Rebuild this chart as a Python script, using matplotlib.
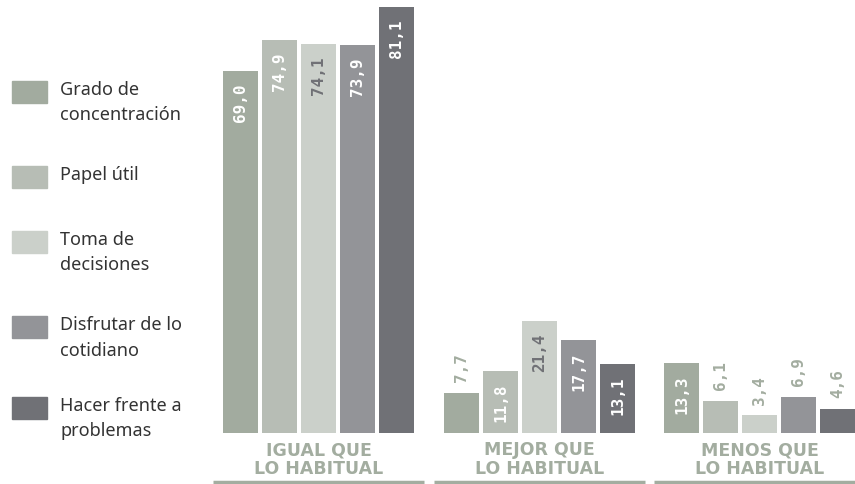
import matplotlib.pyplot as plt

# Survey results (%) per aspect, for each comparison group
groups = ['IGUAL QUE\nLO HABITUAL', 'MEJOR QUE\nLO HABITUAL', 'MENOS QUE\nLO HABITUAL']
aspects = ['Grado de\nconcentración', 'Papel útil', 'Toma de\ndecisiones',
           'Disfrutar de lo\ncotidiano', 'Hacer frente a\nproblemas']
igual = [69.0, 74.9, 74.1, 73.9, 81.1]
mejor = [7.7, 11.8, 21.4, 17.7, 13.1]
menos = [13.3, 6.1, 3.4, 6.9, 4.6]

colors = ['#a2ab9f', '#b7bdb5', '#cbd0ca', '#939498', '#707176']
inside_colors = ['white', 'white', '#707176', 'white', 'white']
label_green = '#a3ada0'

W, H = 855, 484
PX_PER_UNIT = 5.25      # vertical pixels per percentage point
BASE_Y = 433            # pixel row of the bars' baseline
GROUP_X = [223, 444, 664]
BAR_W = 35
STEP = 39.1

fig = plt.figure(figsize=(W / 100, H / 100), dpi=100)
ax = fig.add_axes([0, 0, 1, 1])
ax.set_xlim(0, W)
ax.set_ylim(-(H - BASE_Y) / PX_PER_UNIT, BASE_Y / PX_PER_UNIT)
ax.axis('off')


def px_to_val(py):
    return (BASE_Y - py) / PX_PER_UNIT


for g, values in enumerate([igual, mejor, menos]):
    x0 = GROUP_X[g]
    xs = [x0 + i * STEP for i in range(len(values))]
    ax.bar(xs, values, width=BAR_W, align='edge', color=colors)

    for i, v in enumerate(values):
        xc = xs[i] + BAR_W / 2
        txt = f'{v:.1f}'.replace('.', ',')
        if v > 10:
            ax.text(xc, v - 2.4, txt, rotation=90, ha='center', va='top',
                    color=inside_colors[i], fontsize=11.5, fontweight='bold',
                    family='DejaVu Sans Mono')
        else:
            ax.text(xc, v + 2.0, txt, rotation=90, ha='center', va='bottom',
                    color=label_green, fontsize=11.5, fontweight='bold',
                    family='DejaVu Sans Mono')

    # group name and underline
    gc = x0 + (4 * STEP + BAR_W) / 2
    first, second = groups[g].split('\n')
    ax.text(gc, px_to_val(450), first, ha='center', va='center',
            color=label_green, fontsize=12.5, fontweight='bold')
    ax.text(gc, px_to_val(469), second, ha='center', va='center',
            color=label_green, fontsize=12.5, fontweight='bold')
    ax.plot([x0 - 10, min(x0 + 4 * STEP + BAR_W + 10, W)],
            [px_to_val(482)] * 2, color=label_green, lw=2.5,
            solid_capstyle='butt')

# legend on the left
square_tops = [81, 166, 231, 316, 397]
for i, name in enumerate(aspects):
    top = square_tops[i]
    fig.patches.append(plt.Rectangle((12 / W, 1 - (top + 22) / H), 35 / W, 22 / H,
                                     transform=fig.transFigure,
                                     color=colors[i]))
    for j, line in enumerate(name.split('\n')):
        fig.text(60 / W, 1 - (top + 14 + j * 25.5) / H, line, ha='left',
                 va='baseline', color='#333333', fontsize=13,
                 family='Noto Sans')

fig.savefig('out.png', dpi=100, facecolor='white')
plt.close(fig)
